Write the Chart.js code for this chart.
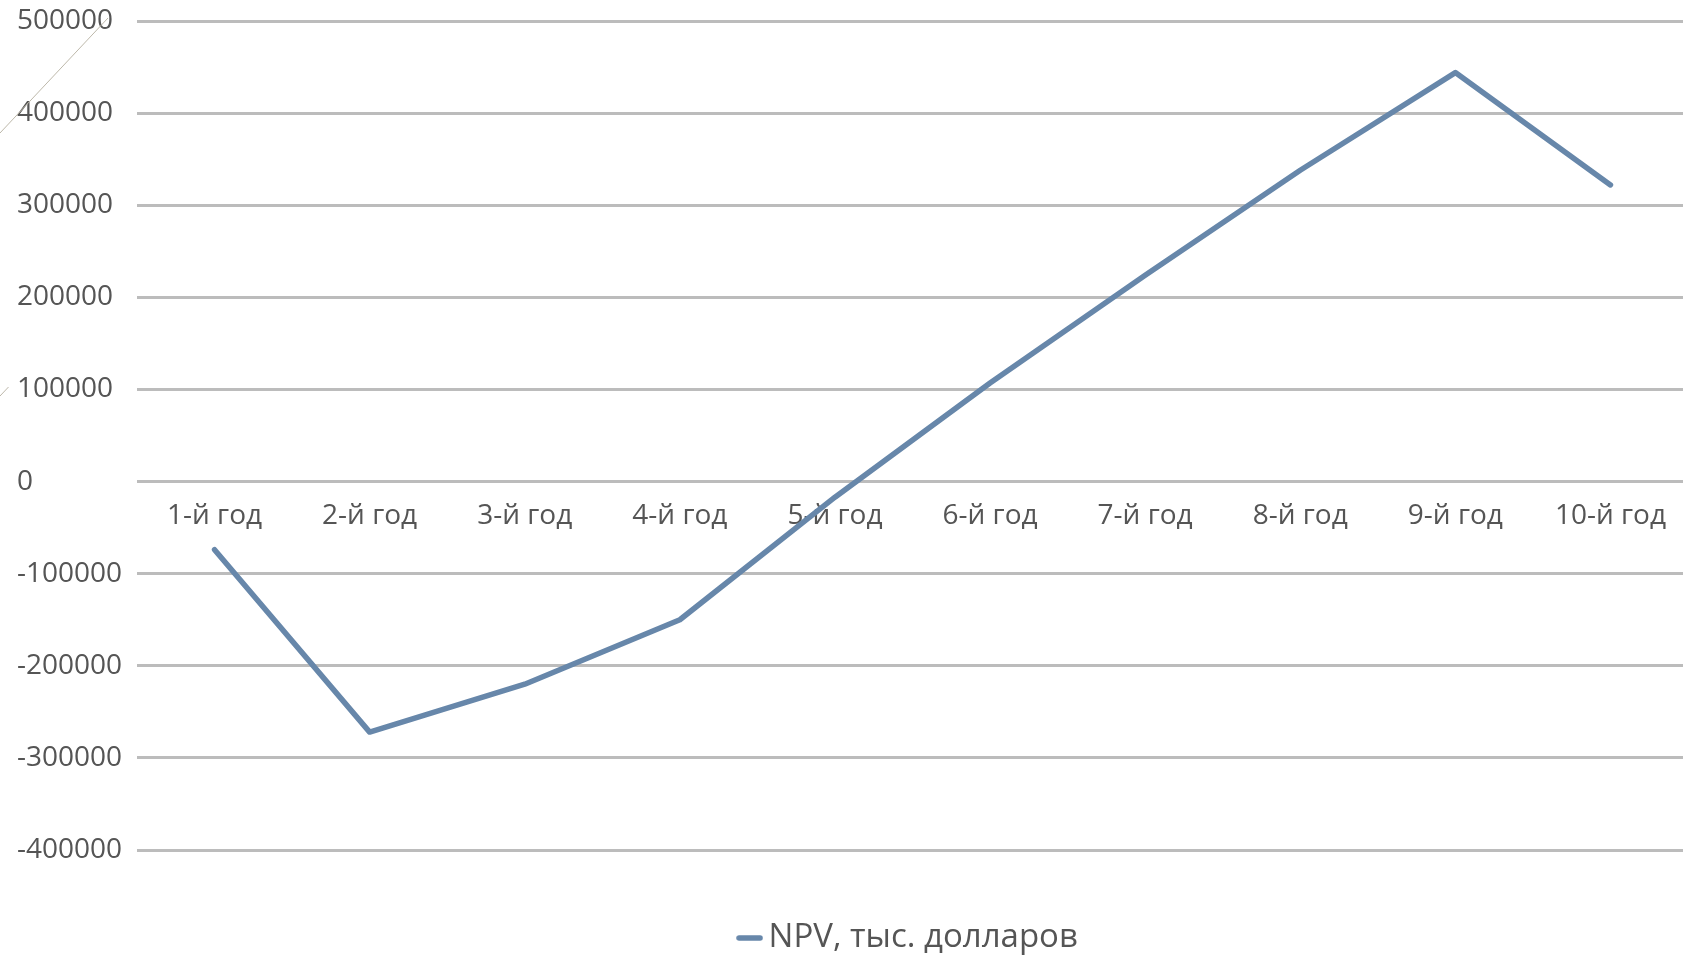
<!DOCTYPE html>
<html>
<head>
<meta charset="utf-8">
<script src="https://cdn.jsdelivr.net/npm/chart.js@4.4.1/dist/chart.umd.min.js"></script>
<style>
  html, body { margin: 0; padding: 0; background: #ffffff; overflow: hidden; }
  #wrap { position: relative; width: 1683px; height: 956px; overflow: hidden; }
  canvas { display: block; }
  #frame { position: absolute; left: 0; top: 0; pointer-events: none; }
</style>
</head>
<body>
<div id="wrap">
  <canvas id="npvChart" width="1688" height="956"></canvas>
  <!-- thin slide-frame strokes in the top-left corner -->
  <svg id="frame" width="1683" height="956">
    <line x1="108" y1="18" x2="0" y2="133" stroke="#bdb8aa" stroke-width="1"/>
    <line x1="8.5" y1="387" x2="0" y2="396" stroke="#bdb8aa" stroke-width="1"/>
  </svg>
</div>
<script>
// Years of the project
const years = ['1-й год', '2-й год', '3-й год', '4-й год', '5-й год',
               '6-й год', '7-й год', '8-й год', '9-й год', '10-й год'];

// Cumulative NPV per year, thousand dollars
const npvValues = [-74000, -272000, -220000, -150000, -17000,
                   107000, 224000, 338000, 444000, 322000];

const seriesName = 'NPV, тыс. долларов';

// Value axis range and step
const yMin = -400000;
const yMax = 500000;
const yStep = 100000;

const fontFamily = '"Open Sans", "Noto Sans", sans-serif';
const axisFont = { family: fontFamily, size: 28, weight: 500 };
const legendFont = { family: fontFamily, size: 33, weight: 500 };
const textColor = '#555555';
const lineColor = '#6787aa';
const lineWidth = 5.5;

// Legend swatch: a short thick stroke in the series colour
const swatch = document.createElement('canvas');
swatch.width = 27;
swatch.height = 8;
(function () {
  const g = swatch.getContext('2d');
  g.strokeStyle = lineColor;
  g.lineWidth = lineWidth;
  g.lineCap = 'round';
  g.beginPath();
  g.moveTo(3, 4);
  g.lineTo(24, 4);
  g.stroke();
})();

new Chart(document.getElementById('npvChart'), {
  type: 'line',
  data: {
    labels: years,
    datasets: [{
      label: seriesName,
      data: npvValues,
      borderColor: lineColor,
      backgroundColor: lineColor,
      borderWidth: lineWidth,
      borderJoinStyle: 'round',
      borderCapStyle: 'round',
      pointRadius: 0,
      tension: 0,
      fill: false
    }]
  },
  options: {
    responsive: false,
    animation: false,
    events: [],
    layout: { padding: { left: 17, top: 21, right: 0, bottom: -8.5 } },
    scales: {
      x: {
        type: 'category',
        position: { y: 0 },
        offset: true,
        grid: { display: false },
        border: { display: false },
        ticks: {
          color: textColor,
          font: axisFont,
          padding: 10,
          maxRotation: 0,
          autoSkip: false
        }
      },
      y: {
        min: yMin,
        max: yMax,
        grid: { color: '#bcbcbc', lineWidth: 3, drawTicks: false },
        border: { display: false },
        ticks: {
          stepSize: yStep,
          color: textColor,
          font: axisFont,
          crossAlign: 'far',
          callback: (v) => String(v)
        },
        afterFit: (scale) => { scale.width = 120; }
      }
    },
    plugins: {
      tooltip: { enabled: false },
      legend: {
        position: 'bottom',
        fullSize: false,
        title: {
          display: true,
          text: ' ',
          font: { size: 10, lineHeight: 1 },
          padding: { top: 55.5, bottom: 0 }
        },
        labels: {
          usePointStyle: true,
          pointStyle: swatch,
          pointStyleWidth: 5,
          padding: 6,
          color: textColor,
          font: legendFont
        }
      }
    }
  }
});
</script>
</body>
</html>
